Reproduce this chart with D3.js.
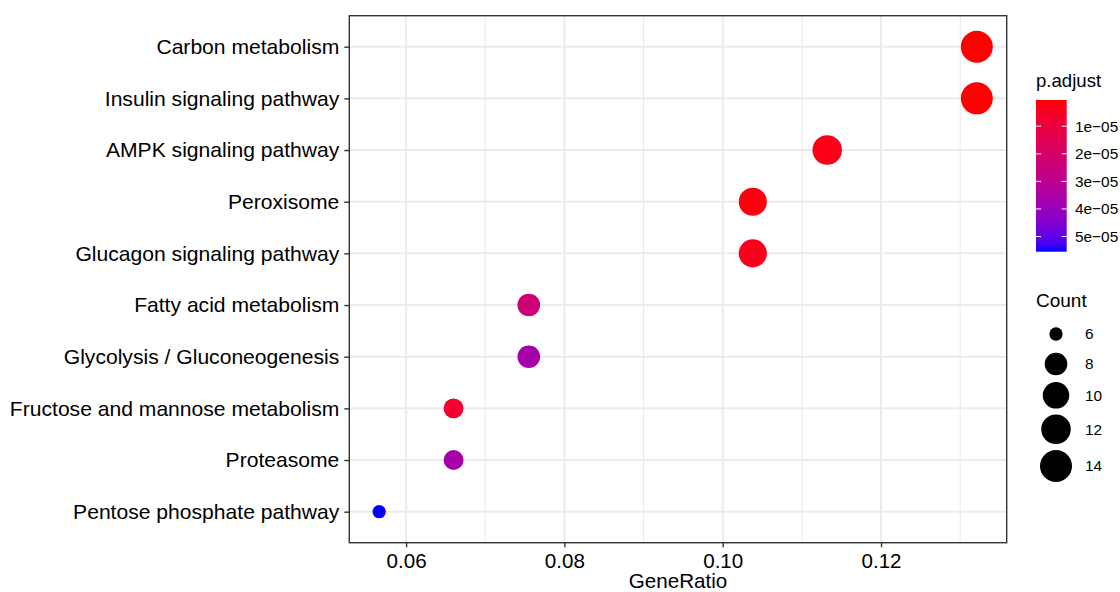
<!DOCTYPE html>
<html>
<head>
<meta charset="utf-8">
<script src="https://cdn.jsdelivr.net/npm/d3@7"></script>
<style>
  body { margin: 0; background: #fff; }
  text { font-family: "Liberation Sans", Arial, sans-serif; }
</style>
</head>
<body>
<div id="chart"></div>
<script>
// data
const pathways = [
    'Carbon metabolism',
    'Insulin signaling pathway',
    'AMPK signaling pathway',
    'Peroxisome',
    'Glucagon signaling pathway',
    'Fatty acid metabolism',
    'Glycolysis / Gluconeogenesis',
    'Fructose and mannose metabolism',
    'Proteasome',
    'Pentose phosphate pathway'
];
const gene_ratio = [0.1321, 0.1321, 0.1132, 0.1038, 0.1038, 0.0755, 0.0755, 0.0660, 0.0660, 0.0566];
const counts = [14, 14, 12, 11, 11, 8, 8, 7, 7, 6];
const p_adjust = [5e-7, 6e-7, 2.7e-6, 1.6e-6, 3.2e-6, 2.36e-5, 3.63e-5, 7.6e-6, 3.63e-5, 5.55e-5];
const x_ticks = [0.06, 0.08, 0.10, 0.12];
const x_minor = [0.07, 0.09, 0.11, 0.13];
const count_breaks = [6, 8, 10, 12, 14];
const p_breaks = [1e-5, 2e-5, 3e-5, 4e-5, 5e-5];
const p_labels = ['1e\u221205', '2e\u221205', '3e\u221205', '4e\u221205', '5e\u221205'];

const chart_width = 1120;
const chart_height = 592;
const panel = {left: 349.3, right: 1006.7, top: 15.7, bottom: 542.7};
const grid_color = '#ebebeb';
const axis_font = 20.6;
const ylab_font = 21.1;

const svg = d3.select('#chart')
    .append('svg')
    .attr('width', chart_width)
    .attr('height', chart_height);

// scales (ggplot style 5% expansion)
const x_ext = d3.extent(gene_ratio);
const x_pad = (x_ext[1] - x_ext[0]) * 0.05;
const x_scale = d3.scaleLinear()
    .domain([x_ext[0] - x_pad, x_ext[1] + x_pad])
    .range([panel.left, panel.right]);

const y_scale = d3.scalePoint()
    .domain(pathways)
    .range([panel.top, panel.bottom])
    .padding(0.6);

const p_ext = d3.extent(p_adjust);
const color_scale = d3.scaleLinear()
    .domain(p_ext)
    .range(['red', 'blue'])
    .interpolate(d3.interpolateLab);

const count_t = d3.scaleLinear().domain(d3.extent(counts)).range([0, 1]);
const radius_scale = d3.scaleLinear().domain([0, 1]).range([6.65, 16]);
const radius = c => radius_scale(Math.sqrt(count_t(c)));

// grid
svg.selectAll('line.minor')
    .data(x_minor.filter(d => x_scale(d) < panel.right))
    .enter()
    .append('line')
    .attr('x1', d => x_scale(d))
    .attr('x2', d => x_scale(d))
    .attr('y1', panel.top)
    .attr('y2', panel.bottom)
    .attr('stroke', grid_color)
    .attr('stroke-width', 1.1);

svg.selectAll('line.hgrid')
    .data(pathways)
    .enter()
    .append('line')
    .attr('x1', panel.left)
    .attr('x2', panel.right)
    .attr('y1', d => y_scale(d))
    .attr('y2', d => y_scale(d))
    .attr('stroke', grid_color)
    .attr('stroke-width', 2);

svg.selectAll('line.vgrid')
    .data(x_ticks)
    .enter()
    .append('line')
    .attr('x1', d => x_scale(d))
    .attr('x2', d => x_scale(d))
    .attr('y1', panel.top)
    .attr('y2', panel.bottom)
    .attr('stroke', grid_color)
    .attr('stroke-width', 2);

// points
const rows = pathways.map((p, i) => ({name: p, ratio: gene_ratio[i], count: counts[i], p: p_adjust[i]}));
svg.selectAll('circle.pt')
    .data(rows)
    .enter()
    .append('circle')
    .attr('cx', d => x_scale(d.ratio))
    .attr('cy', d => y_scale(d.name))
    .attr('r', d => radius(d.count))
    .attr('fill', d => color_scale(d.p));

// panel border
svg.append('rect')
    .attr('x', panel.left)
    .attr('y', panel.top)
    .attr('width', panel.right - panel.left)
    .attr('height', panel.bottom - panel.top)
    .attr('fill', 'none')
    .attr('stroke', '#333')
    .attr('stroke-width', 1.4);

// axes
const x_axis = svg.append('g')
    .attr('transform', `translate(0,${panel.bottom})`)
    .call(d3.axisBottom(x_scale).tickValues(x_ticks).tickFormat(d3.format('.2f')).tickSizeOuter(0).tickSize(4.5).tickPadding(6));
x_axis.select('.domain').remove();
x_axis.selectAll('line').attr('stroke', '#333').attr('stroke-width', 1.4);
x_axis.selectAll('text').attr('font-size', axis_font).attr('fill', '#000')
    .attr('font-family', '"Liberation Sans", Arial, sans-serif');

const y_axis = svg.append('g')
    .attr('transform', `translate(${panel.left},0)`)
    .call(d3.axisLeft(y_scale).tickSizeOuter(0).tickSize(5).tickPadding(5));
y_axis.select('.domain').remove();
y_axis.selectAll('line').attr('stroke', '#333').attr('stroke-width', 1.4);
y_axis.selectAll('text').attr('font-size', ylab_font).attr('fill', '#000')
    .attr('font-family', '"Liberation Sans", Arial, sans-serif');

svg.append('text')
    .text('GeneRatio')
    .attr('x', (panel.left + panel.right) / 2)
    .attr('y', 587.5)
    .attr('text-anchor', 'middle')
    .attr('font-size', axis_font);

// colour legend
const bar = {x: 1036, w: 30.7, top: 100, bottom: 251.7};
svg.append('text')
    .text('p.adjust')
    .attr('x', bar.x)
    .attr('y', 87)
    .attr('font-size', 18.6);

const grad = svg.append('defs')
    .append('linearGradient')
    .attr('id', 'pgrad')
    .attr('x1', 0).attr('x2', 0).attr('y1', 0).attr('y2', 1);
grad.selectAll('stop')
    .data(d3.range(0, 1.0001, 0.05))
    .enter()
    .append('stop')
    .attr('offset', d => d)
    .attr('stop-color', d => color_scale(p_ext[0] + d * (p_ext[1] - p_ext[0])));

svg.append('rect')
    .attr('x', bar.x)
    .attr('y', bar.top)
    .attr('width', bar.w)
    .attr('height', bar.bottom - bar.top)
    .attr('fill', 'url(#pgrad)');

const bar_scale = d3.scaleLinear().domain(p_ext).range([bar.top, bar.bottom]);
[[bar.x, bar.x + 5], [bar.x + bar.w - 5, bar.x + bar.w]].forEach(([a, b]) => {
    svg.selectAll(null)
        .data(p_breaks)
        .enter()
        .append('line')
        .attr('x1', a)
        .attr('x2', b)
        .attr('y1', d => bar_scale(d))
        .attr('y2', d => bar_scale(d))
        .attr('stroke', '#fff')
        .attr('stroke-width', 1);
});
svg.selectAll('text.plab')
    .data(p_breaks)
    .enter()
    .append('text')
    .text((d, i) => p_labels[i])
    .attr('x', 1075)
    .attr('y', d => bar_scale(d) + 5.5)
    .attr('font-size', 15.4);

// size legend
svg.append('text')
    .text('Count')
    .attr('x', 1036)
    .attr('y', 306.5)
    .attr('font-size', 19);

let key_y = 319;
count_breaks.forEach(c => {
    const h = Math.max(30, radius(c) * 2 + 6);
    const cy = key_y + h / 2;
    svg.append('circle')
        .attr('cx', 1056)
        .attr('cy', cy)
        .attr('r', radius(c))
        .attr('fill', '#000');
    svg.append('text')
        .text(c)
        .attr('x', 1085)
        .attr('y', cy + 5.4)
        .attr('font-size', 15.4);
    key_y += h;
});
</script>
</body>
</html>
